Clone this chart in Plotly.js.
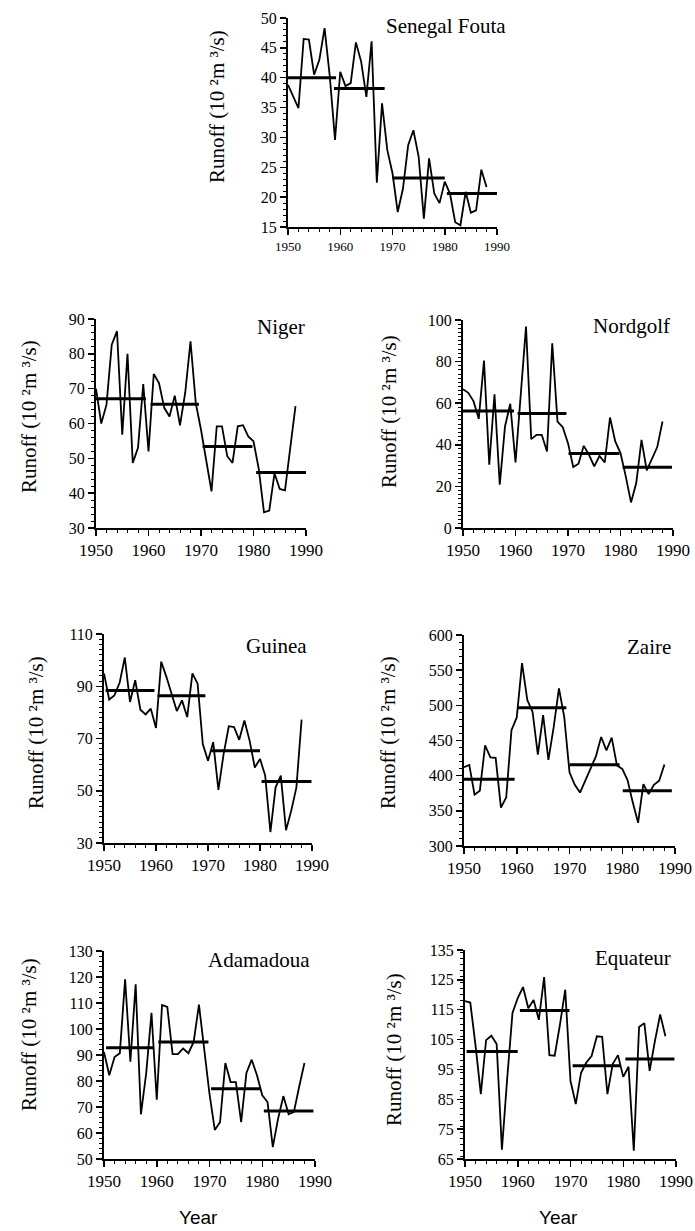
<!DOCTYPE html>
<html>
<head>
<meta charset="utf-8">
<script src="https://cdn.plot.ly/plotly-3.0.1.min.js"></script>
<style>html,body{margin:0;padding:0;background:#fff;}#chart{width:695px;height:1231px;}</style>
</head>
<body>
<div id="chart"></div>
<script>
// ---------- DATA ----------
const years = [1950,1951,1952,1953,1954,1955,1956,1957,1958,1959,
               1960,1961,1962,1963,1964,1965,1966,1967,1968,1969,
               1970,1971,1972,1973,1974,1975,1976,1977,1978,1979,
               1980,1981,1982,1983,1984,1985,1986,1987,1988];

const senegalRunoff = [38.8,36.8,34.9,46.5,46.4,40.5,43,48.3,40.2,29.6,
                       41,38.6,39.1,45.9,42.7,36.8,46.1,22.4,35.7,27.9,
                       24,17.5,21.4,28.7,31.2,26.8,16.4,26.5,20.6,19,
                       22.6,20.6,15.8,15.3,20.9,17.4,17.8,24.6,21.7];
const senegalMeanStart = [1950, 1958.8, 1970, 1980.4];
const senegalMeanEnd   = [1959.2, 1968.5, 1980, 1990];
const senegalMeanValue = [40.0, 38.2, 23.2, 20.6];

const nigerRunoff = [70,60,65.4,82.6,86.5,56.8,80,48.7,53,71.3,
                     52,74.2,71.6,64.5,62,68,59.5,68.9,83.6,65.9,
                     58.2,49.6,40.5,59.2,59.2,50.6,48.7,59.2,59.5,56.3,
                     54.9,47,34.5,35,45.7,41.2,40.8,53,65];
const nigerMeanStart = [1950, 1960.4, 1970.3, 1980.5];
const nigerMeanEnd   = [1959.5, 1969.6, 1979.8, 1990];
const nigerMeanValue = [67.1, 65.5, 53.4, 45.9];

const nordgolfRunoff = [66.7,65,61,52.5,80.5,30.4,64.3,20.8,48.8,59.7,
                        31.5,64,96.8,42.7,44.8,44.8,36.8,88.8,51.2,48.5,
                        40.8,29.3,30.9,39.5,35.2,29.6,34.7,31.5,53.1,41.6,
                        36,24.8,12.3,21.6,42.4,27.7,33.6,38.9,51.2];
const nordgolfMeanStart = [1950, 1960.4, 1970.1, 1980.4];
const nordgolfMeanEnd   = [1959.7, 1969.7, 1979.8, 1989.8];
const nordgolfMeanValue = [56.2, 55, 35.8, 29.2];

const guineaRunoff = [94.9,84.9,86.5,91.3,101,84,92.3,81,79.2,81.4,
                      74,99.4,93.6,87.2,80.5,84.6,78.2,94.9,91,67.9,
                      61.5,68.6,50.3,64,74.7,74.4,69.5,76.9,69.2,58.9,
                      62.2,55.8,34.2,51.3,55.8,34.9,42.3,51.3,77.2];
const guineaMeanStart = [1950.3, 1960.3, 1970.6, 1980.3];
const guineaMeanEnd   = [1959.7, 1969.5, 1980, 1989.9];
const guineaMeanValue = [88.4, 86.4, 65.3, 53.5];

const zaireRunoff = [412,415.3,373,378.5,443,426,425.4,354.5,368.9,464.6,
                     482.8,560,507.5,490.7,430,486,422.4,469,524,483.5,
                     404.8,387,376,393.8,412,427.3,455,435.9,454,414.4,
                     409.6,393.8,361.7,333,388,373.7,387,392.8,415.8];
const zaireMeanStart = [1950, 1960.2, 1970, 1980.1];
const zaireMeanEnd   = [1959.6, 1969.4, 1979.5, 1989.4];
const zaireMeanValue = [395, 496.5, 415.5, 378.5];

const adamadouaRunoff = [91.2,82.2,89.2,90.7,119.1,87.4,117.2,67.2,83,106.2,
                         72.8,109.2,108.5,90.3,90.3,92.5,90.7,95,109.4,92,
                         75,61.2,64.2,86.9,79.6,79.6,64.2,83.1,88.2,82.2,
                         74.5,71.9,54.6,65.5,74.2,67.2,68.1,77.8,86.9];
const adamadouaMeanStart = [1950.4, 1960.3, 1970.3, 1980.3];
const adamadouaMeanEnd   = [1959.4, 1969.8, 1979.7, 1989.7];
const adamadouaMeanValue = [92.8, 95, 77, 68.5];

const equateurRunoff = [117.9,117.4,103,86.7,104.8,106.3,103.5,68.1,92,113.9,
                        118.9,122.6,115.5,118.3,111.6,125.9,99.8,99.6,110,121.7,
                        91.1,83.4,93.9,97.3,99.5,106.1,105.9,86.7,96.8,99.8,
                        92.5,95.9,67.8,109.2,110.5,94.5,104.5,113.4,106.1];
const equateurMeanStart = [1950.3, 1960.4, 1970.4, 1980.4];
const equateurMeanEnd   = [1960, 1969.8, 1979.5, 1989.7];
const equateurMeanValue = [101, 114.7, 96.2, 98.5];

const xTickLabels = ['1950','1960','1970','1980','1990'];
const xTickValues = [1950,1960,1970,1980,1990];

// ---------- LAYOUT ----------
const W = 695, H = 1231;
const serif = 'Liberation Serif, Times New Roman, serif';
const sans = 'Liberation Sans, Arial, sans-serif';
const yTitle = 'Runoff (10 \u00B2m \u00B3/s)';

const panels = [
  {name:'Senegal Fouta', y:senegalRunoff, ms:senegalMeanStart, me:senegalMeanEnd, mv:senegalMeanValue,
   box:[288,18,497,227], yr:[15,50], yd:5, ym:1, xfs:13, titleXY:[508,26], ytXY:[217,107]},
  {name:'Niger', y:nigerRunoff, ms:nigerMeanStart, me:nigerMeanEnd, mv:nigerMeanValue,
   box:[96,319,306,528], yr:[30,90], yd:10, ym:2, xfs:17, titleXY:[307,327], ytXY:[29,417]},
  {name:'Nordgolf', y:nordgolfRunoff, ms:nordgolfMeanStart, me:nordgolfMeanEnd, mv:nordgolfMeanValue,
   box:[463,320,673,528], yr:[0,100], yd:20, ym:2, xfs:17, titleXY:[672,326], ytXY:[389,412]},
  {name:'Guinea', y:guineaRunoff, ms:guineaMeanStart, me:guineaMeanEnd, mv:guineaMeanValue,
   box:[104,634,312,843], yr:[30,110], yd:20, ym:2, xfs:17, titleXY:[309,646], ytXY:[36,733]},
  {name:'Zaire', y:zaireRunoff, ms:zaireMeanStart, me:zaireMeanEnd, mv:zaireMeanValue,
   box:[464,635,675,846], yr:[300,600], yd:50, ym:10, xfs:17, titleXY:[673,647], ytXY:[388,733]},
  {name:'Adamadoua', y:adamadouaRunoff, ms:adamadouaMeanStart, me:adamadouaMeanEnd, mv:adamadouaMeanValue,
   box:[104,951,315,1159], yr:[50,130], yd:10, ym:2, xfs:17, titleXY:[312,960], ytXY:[29,1035]},
  {name:'Equateur', y:equateurRunoff, ms:equateurMeanStart, me:equateurMeanEnd, mv:equateurMeanValue,
   box:[465,950,676,1159], yr:[65,135], yd:10, ym:2, xfs:17, titleXY:[673,958], ytXY:[394,1050]}
];

const traces = [];
const layout = {
  width: W, height: H,
  margin: {l:0, r:0, t:0, b:0},
  paper_bgcolor: '#fff', plot_bgcolor: '#fff',
  showlegend: false,
  annotations: [],
  font: {family: serif, color: '#000'}
};

panels.forEach((p, i) => {
  const n = i === 0 ? '' : String(i + 1);
  const xa = 'x' + n, ya = 'y' + n;
  const [x0, y0, x1, y1] = p.box;
  layout['xaxis' + n] = {
    domain: [x0 / W, x1 / W], anchor: ya, range: [1950, 1990],
    tickvals: xTickValues, ticktext: xTickLabels,
    ticks: 'outside', ticklen: 6, tickwidth: 1.5, tickcolor: '#000',
    minor: {dtick: 2, ticks: 'outside', ticklen: 3, tickwidth: 1, tickcolor: '#000'},
    showline: true, linewidth: 2, linecolor: '#000',
    showgrid: false, zeroline: false,
    tickfont: {family: serif, size: p.xfs, color: '#000'}
  };
  layout['yaxis' + n] = {
    domain: [1 - y1 / H, 1 - y0 / H], anchor: xa, range: p.yr,
    tick0: p.yr[0], dtick: p.yd,
    ticks: 'outside', ticklen: 6, tickwidth: 1.5, tickcolor: '#000',
    minor: {dtick: p.ym, ticks: 'outside', ticklen: 3, tickwidth: 1, tickcolor: '#000'},
    showline: true, linewidth: 2, linecolor: '#000',
    showgrid: false, zeroline: false,
    tickfont: {family: serif, size: 16, color: '#000'}
  };
  traces.push({
    type: 'scatter', mode: 'lines', x: years, y: p.y, xaxis: xa, yaxis: ya,
    line: {color: '#000', width: 1.8}, hoverinfo: 'x+y', cliponaxis: false
  });
  const mx = [], my = [];
  p.ms.forEach((s, k) => { mx.push(s, p.me[k], null); my.push(p.mv[k], p.mv[k], null); });
  traces.push({
    type: 'scatter', mode: 'lines', x: mx, y: my, xaxis: xa, yaxis: ya,
    line: {color: '#000', width: 3}, connectgaps: false, hoverinfo: 'y', cliponaxis: false
  });
  layout.annotations.push({
    xref: 'paper', yref: 'paper', x: p.titleXY[0] / W, y: 1 - p.titleXY[1] / H,
    xanchor: 'right', yanchor: 'middle', showarrow: false,
    text: p.name, font: {family: serif, size: 21, color: '#000'}
  });
  layout.annotations.push({
    xref: 'paper', yref: 'paper', x: p.ytXY[0] / W, y: 1 - p.ytXY[1] / H,
    xanchor: 'center', yanchor: 'middle', showarrow: false, textangle: -90,
    text: yTitle, font: {family: serif, size: 21, color: '#000'}
  });
});

[[198, 1217], [558, 1217]].forEach(([ax, ay]) => {
  layout.annotations.push({
    xref: 'paper', yref: 'paper', x: ax / W, y: 1 - ay / H,
    xanchor: 'center', yanchor: 'middle', showarrow: false,
    text: 'Year', font: {family: sans, size: 19, color: '#000'}
  });
});

Plotly.newPlot('chart', traces, layout, {displayModeBar: false, staticPlot: true});
</script>
</body>
</html>
